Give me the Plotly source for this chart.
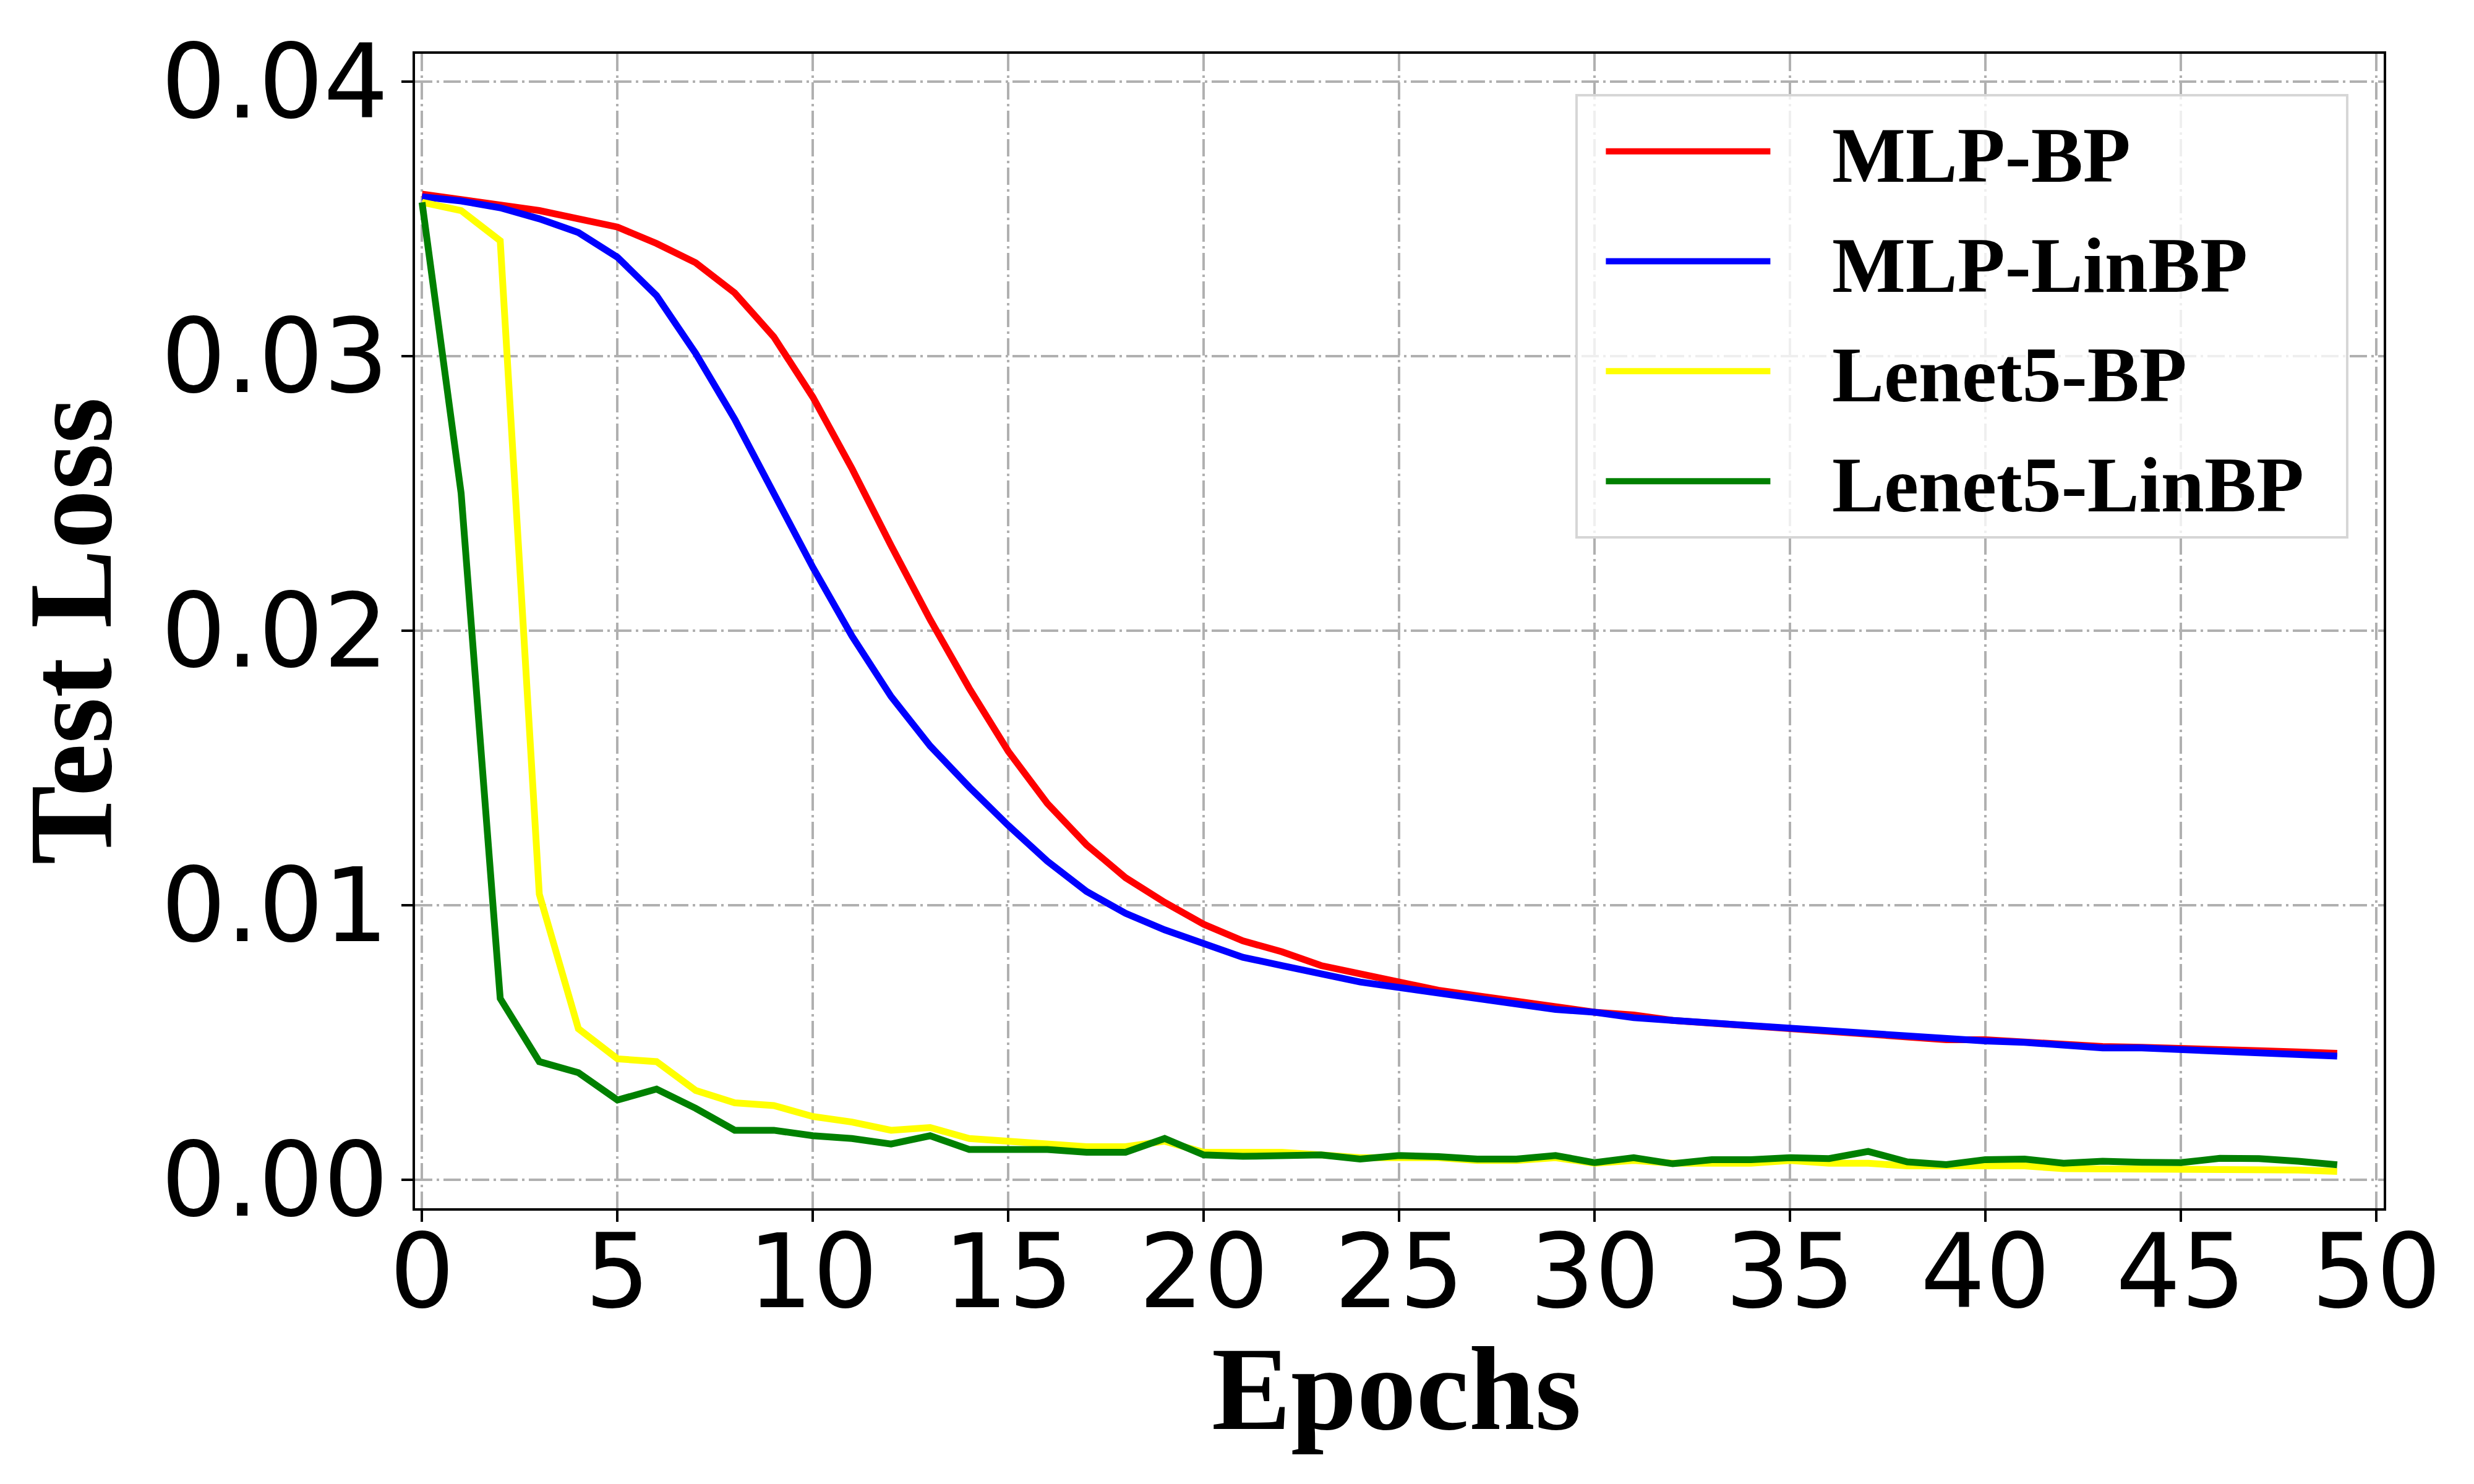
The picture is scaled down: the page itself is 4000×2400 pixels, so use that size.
import plotly.graph_objects as go

# test loss per epoch
epochs = list(range(50))

mlp_bp = [0.0359, 0.0357, 0.0355, 0.0353, 0.0350, 0.0347, 0.0341, 0.0334, 0.0323, 0.0307,
          0.0285, 0.0259, 0.0231, 0.0204, 0.0179, 0.0156, 0.0137, 0.0122, 0.0110, 0.0101,
          0.0093, 0.0087, 0.0083, 0.0078, 0.0075, 0.0072, 0.0069, 0.0067, 0.0065, 0.0063,
          0.0061, 0.0060, 0.0058, 0.0057, 0.0056, 0.0055, 0.0054, 0.00535, 0.0052, 0.0051,
          0.0051, 0.00500, 0.0049, 0.00485, 0.00482, 0.0048, 0.00475, 0.0047, 0.00465, 0.0046]

mlp_linbp = [0.0358, 0.03565, 0.0354, 0.0350, 0.0345, 0.0336, 0.0322, 0.0301, 0.0277, 0.0250,
             0.0223, 0.0198, 0.0176, 0.0158, 0.0143, 0.0129, 0.0116, 0.0105, 0.0097, 0.0091,
             0.0086, 0.0081, 0.0078, 0.0075, 0.0072, 0.0070, 0.0068, 0.0066, 0.0064, 0.0062,
             0.0061, 0.0059, 0.0058, 0.0057, 0.0056, 0.0055, 0.0054, 0.0053, 0.0052, 0.0051,
             0.00505, 0.0050, 0.0049, 0.0048, 0.0048, 0.00475, 0.0047, 0.00465, 0.0046, 0.0045]

lenet5_bp = [0.0356, 0.0353, 0.0342, 0.0104, 0.0055, 0.0044, 0.0043, 0.00325, 0.0028, 0.0027,
             0.0023, 0.0021, 0.0018, 0.0019, 0.0015, 0.0014, 0.0013, 0.0012, 0.0012, 0.0014,
             0.0010, 0.0010, 0.0010, 0.0009, 0.0008, 0.0008, 0.0008, 0.0007, 0.0007, 0.0008,
             0.0006, 0.0007, 0.0006, 0.0006, 0.0006, 0.0007, 0.0006, 0.0006, 0.0005, 0.0005,
             0.0005, 0.0005, 0.0004, 0.0004, 0.0004, 0.0004, 0.0004, 0.0004, 0.00035, 0.0003]

lenet5_linbp = [0.0356, 0.0250, 0.0066, 0.0043, 0.0039, 0.0029, 0.0033, 0.0026, 0.0018, 0.0018,
                0.0016, 0.0015, 0.0013, 0.0016, 0.0011, 0.0011, 0.0011, 0.0010, 0.0010, 0.0015,
                0.0009, 0.00085, 0.00088, 0.0009, 0.00075, 0.00088, 0.00084, 0.00075, 0.00075, 0.00088,
                0.00062, 0.0008, 0.00058, 0.00073, 0.00073, 0.0008, 0.00077, 0.00103, 0.00065, 0.00055,
                0.00073, 0.00075, 0.0006, 0.00067, 0.00063, 0.00062, 0.00078, 0.00077, 0.00067, 0.00054]

series_names = ["MLP-BP", "MLP-LinBP", "Lenet5-BP", "Lenet5-LinBP"]
series_colors = ["#ff0000", "#0000ff", "#ffff00", "#008000"]

x_ticks = list(range(0, 51, 5))
y_ticks = [0.00, 0.01, 0.02, 0.03, 0.04]

SERIF = "Liberation Serif, Times New Roman, serif"
SANS = "DejaVu Sans, sans-serif"
NBSP = "\u00a0"

fig = go.Figure()

for name, color, values in zip(series_names, series_colors,
                               [mlp_bp, mlp_linbp, lenet5_bp, lenet5_linbp]):
    fig.add_trace(
        go.Scatter(
            x=epochs,
            y=values,
            mode="lines",
            # non-breaking spaces keep the gap between sample line and label
            name=NBSP * 3 + name + NBSP * 2,
            legendgroup=name,
            line=dict(color=color, width=11)
        )
    )

axis_common = dict(
    showline=True,
    mirror=True,
    linecolor="black",
    linewidth=4,
    ticks="outside",
    ticklen=18,
    tickwidth=4,
    tickcolor="black",
    showgrid=True,
    gridcolor="#b0b0b0",
    gridwidth=4,
    griddash="28px,7px,4px,7px",
    zeroline=False,
    tickfont=dict(family=SANS, size=165, color="black"),
)

fig.update_xaxes(
    range=[-0.18, 50.19],
    tickvals=x_ticks,
    ticklabelstandoff=-60,
    **axis_common
)

fig.update_yaxes(
    range=[-0.00104, 0.04101],
    tickvals=y_ticks,
    tickformat=".2f",
    ticklabelstandoff=-12,
    title=dict(text="Test Loss", standoff=25,
               font=dict(family=SERIF, size=192, color="black", weight="bold")),
    **axis_common
)

# x title as an annotation so it can sit as close to the tick labels as in the reference
fig.add_annotation(
    text="Epochs",
    xref="paper", yref="paper",
    x=0.5, y=0,
    xanchor="center", yanchor="top",
    xshift=-5,
    yshift=-184,
    showarrow=False,
    font=dict(family=SERIF, size=192, color="black", weight="bold"),
)

fig.update_layout(
    width=4000,
    height=2400,
    margin=dict(l=663, r=154, t=79, b=454),
    paper_bgcolor="white",
    plot_bgcolor="white",
    showlegend=True,
    legend=dict(
        x=0.5895,
        y=0.965,
        xanchor="left",
        yanchor="top",
        bgcolor="rgba(255,255,255,0.8)",
        bordercolor="#d6d6d6",
        borderwidth=4,
        indentation=40,
        itemwidth=266,
        tracegroupgap=11,
        font=dict(family=SERIF, size=126, color="black", weight="bold"),
    ),
)

fig.write_html("out.html")
